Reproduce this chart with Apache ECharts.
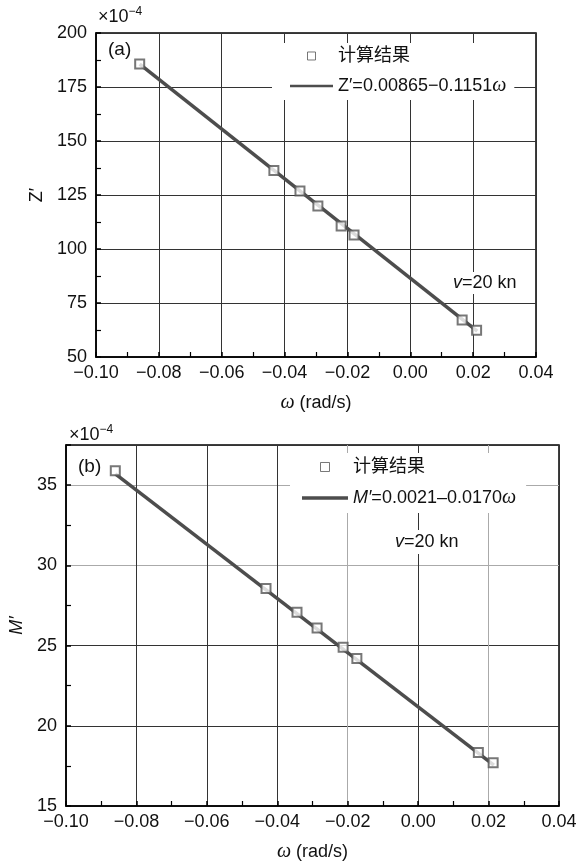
<!DOCTYPE html>
<html>
<head>
<meta charset="utf-8">
<script src="https://cdn.jsdelivr.net/npm/echarts@6/dist/echarts.min.js"></script>
<style>
  html, body { margin: 0; padding: 0; background: #fff; }
  #main { width: 581px; height: 863px; }
</style>
</head>
<body>
<div id="main"></div>
<script>
// data (y values in units of 1e-4)
var omegaZ = [-0.0861, -0.0434, -0.0351, -0.0294, -0.0220, -0.0179, 0.0165, 0.0211];
var zValues = [185.6, 136.3, 126.9, 119.9, 110.6, 106.5, 67.1, 62.4];
var fitOmegaZ = [-0.0861, 0.0213];
var fitZ = [185.6, 62.0];

var omegaM = [-0.0860, -0.0432, -0.0344, -0.0287, -0.0213, -0.0174, 0.0171, 0.0213];
var mValues = [35.9, 28.56, 27.08, 26.1, 24.9, 24.2, 18.33, 17.7];
var fitOmegaM = [-0.0860, 0.0215];
var fitM = [35.7, 17.55];

var xTicks = [-0.10, -0.08, -0.06, -0.04, -0.02, 0.00, 0.02, 0.04];

var FONT = "'Liberation Sans', 'Noto Sans CJK SC', sans-serif";
var SERIF = "'Liberation Serif', 'DejaVu Serif', serif";

function pairs(xs, ys) {
  return xs.map(function (x, i) { return [x, ys[i]]; });
}

function fmtX(v) {
  if (Math.abs(v) < 1e-9) return "0.00";
  return v.toFixed(2).replace("-", "\u2212");
}

var myChart = echarts.init(document.getElementById("main"));

function xAxisFor(gridIndex, gridColors) {
  return {
    gridIndex: gridIndex,
    type: "value",
    min: xTicks[0],
    max: xTicks[xTicks.length - 1],
    interval: 0.02,
    name: "{w|\u03c9} (rad/s)",
    nameLocation: "middle",
    nameGap: 36,
    nameTextStyle: {
      fontFamily: FONT, fontSize: 18, color: "#111",
      rich: { w: { fontFamily: SERIF, fontStyle: "italic", fontSize: 20, color: "#111" } }
    },
    axisLine: { onZero: false, lineStyle: { color: "#000", width: 1.5 } },
    axisTick: { inside: true, length: 5, lineStyle: { color: "#000", width: 1.5 } },
    minorTick: { show: true, splitNumber: 2, length: 5, lineStyle: { color: "#000", width: 1.2 } },
    axisLabel: { fontFamily: FONT, fontSize: 18, color: "#111", margin: 7, formatter: fmtX },
    splitLine: { show: true, lineStyle: { color: gridColors, width: 1 } }
  };
}

function yAxisFor(gridIndex, min, max, interval, name, italic, gap, gridColors) {
  return {
    gridIndex: gridIndex,
    type: "value",
    min: min,
    max: max,
    interval: interval,
    name: name,
    nameLocation: "middle",
    nameRotate: 90,
    nameGap: gap,
    nameTextStyle: { fontFamily: FONT, fontSize: 18, color: "#111", fontStyle: italic ? "italic" : "normal" },
    axisLine: { onZero: false, lineStyle: { color: "#000", width: 1.5 } },
    axisTick: { inside: true, length: 5, lineStyle: { color: "#000", width: 1.5 } },
    minorTick: { show: true, splitNumber: 2, length: 5, lineStyle: { color: "#000", width: 1.2 } },
    axisLabel: {
      fontFamily: FONT, fontSize: 18, color: "#111", margin: 9,
      showMaxLabel: max % interval === 0
    },
    splitLine: { show: true, lineStyle: { color: gridColors, width: 1 } }
  };
}

var topGrid = ["#333"];
var botX = ["#333", "#333", "#333", "#333", "#aaa", "#333", "#aaa", "#333"];
var botY = ["#333", "#333", "#333", "#aaa", "#aaa", "#333"];

var labelZ = "Z\u2032=0.00865\u22120.1151";
var labelM = "M\u2032=0.0021\u20130.0170";
var squareIcon = "path://M0,0H10V10H0Z";
var squareStyle = { color: "#fff", borderColor: "#555", borderWidth: 1 };

var option = {
  animation: false,
  backgroundColor: "#fff",
  grid: [
    { left: 96, top: 33, right: 45, height: 324, show: true, borderColor: "#000", borderWidth: 1.5, backgroundColor: "transparent" },
    { left: 66, top: 445, right: 22, height: 365, show: true, borderColor: "#000", borderWidth: 1.5, backgroundColor: "transparent" }
  ],
  xAxis: [xAxisFor(0, topGrid), xAxisFor(1, botX)],
  yAxis: [
    yAxisFor(0, 50, 200, 25, "Z\u2032", false, 47, topGrid),
    yAxisFor(1, 15, 37.5, 5, "M\u2032", true, 37, botY)
  ],
  legend: [
    {
      data: [
        { name: "计算结果", icon: squareIcon, itemStyle: squareStyle },
        { name: labelZ, icon: "path://M0,0H40V2.5H0Z", itemStyle: { color: "#4d4d4d" } }
      ],
      orient: "vertical",
      left: 272,
      top: 43,
      padding: [4, 8, 4, 18],
      itemGap: 11,
      itemWidth: 43,
      itemHeight: 8,
      backgroundColor: "#fff",
      selectedMode: false,
      formatter: function (name) {
        return name === labelZ ? name + "{w|\u03c9}" : name;
      },
      textStyle: {
        fontFamily: FONT, fontSize: 18, color: "#111",
        rich: { w: { fontFamily: SERIF, fontStyle: "italic", fontSize: 20, color: "#111" } }
      }
    },
    {
      data: [
        { name: "计算结果 ", icon: squareIcon, itemStyle: squareStyle },
        { name: labelM, icon: "path://M0,0H46V3.5H0Z", itemStyle: { color: "#4d4d4d" } }
      ],
      orient: "vertical",
      left: 290,
      top: 453,
      padding: [5, 10, 5, 12],
      itemGap: 12,
      itemWidth: 46,
      itemHeight: 9,
      backgroundColor: "#fff",
      selectedMode: false,
      formatter: function (name) {
        if (name === labelM) return "{i|M\u2032}=0.0021\u20130.0170{w|\u03c9}";
        return name;
      },
      textStyle: {
        fontFamily: FONT, fontSize: 18, color: "#111",
        rich: {
          i: { fontFamily: FONT, fontStyle: "italic", fontSize: 18, color: "#111" },
          w: { fontFamily: SERIF, fontStyle: "italic", fontSize: 20, color: "#111" }
        }
      }
    }
  ],
  series: [
    {
      name: labelZ, type: "line", xAxisIndex: 0, yAxisIndex: 0,
      data: pairs(fitOmegaZ, fitZ),
      symbol: "none",
      lineStyle: { color: "#4d4d4d", width: 3.5 },
      itemStyle: { color: "#4d4d4d" },
      z: 3
    },
    {
      name: "计算结果", type: "scatter", xAxisIndex: 0, yAxisIndex: 0,
      data: pairs(omegaZ, zValues),
      symbol: "emptyRect", symbolSize: 9,
      itemStyle: { color: "#555", borderWidth: 1 },
      z: 4
    },
    {
      name: labelM, type: "line", xAxisIndex: 1, yAxisIndex: 1,
      data: pairs(fitOmegaM, fitM),
      symbol: "none",
      lineStyle: { color: "#4d4d4d", width: 3.5 },
      itemStyle: { color: "#4d4d4d" },
      z: 3
    },
    {
      name: "计算结果 ", type: "scatter", xAxisIndex: 1, yAxisIndex: 1,
      data: pairs(omegaM, mValues),
      symbol: "emptyRect", symbolSize: 9,
      itemStyle: { color: "#555", borderWidth: 1 },
      z: 4
    }
  ],
  graphic: [
    {
      type: "text", left: 98, top: 6,
      style: {
        text: "×10{s|\u22124}", fontFamily: FONT, fontSize: 18, fill: "#111",
        rich: { s: { fontFamily: FONT, fontSize: 12, fill: "#111", padding: [0, 0, 10, 0] } }
      }
    },
    {
      type: "text", left: 69, top: 424,
      style: {
        text: "×10{s|\u22124}", fontFamily: FONT, fontSize: 18, fill: "#111",
        rich: { s: { fontFamily: FONT, fontSize: 12, fill: "#111", padding: [0, 0, 10, 0] } }
      }
    },
    { type: "text", left: 108, top: 40, style: { text: "(a)", fontFamily: FONT, fontSize: 19, fill: "#111" } },
    { type: "text", left: 78, top: 457, style: { text: "(b)", fontFamily: FONT, fontSize: 19, fill: "#111" } },
    {
      type: "text", left: 444, top: 272, z: 10,
      style: {
        text: "{i|v}=20 kn", fontFamily: FONT, fontSize: 18, fill: "#111",
        backgroundColor: "#fff", padding: [2, 7, 2, 9],
        rich: { i: { fontFamily: FONT, fontStyle: "italic", fontSize: 18, fill: "#111" } }
      }
    },
    {
      type: "text", left: 387, top: 530, z: 10,
      style: {
        text: "{i|v}=20 kn", fontFamily: FONT, fontSize: 18, fill: "#111",
        backgroundColor: "#fff", padding: [3, 10, 3, 8],
        rich: { i: { fontFamily: FONT, fontStyle: "italic", fontSize: 18, fill: "#111" } }
      }
    }
  ]
};

myChart.setOption(option);
</script>
</body>
</html>
